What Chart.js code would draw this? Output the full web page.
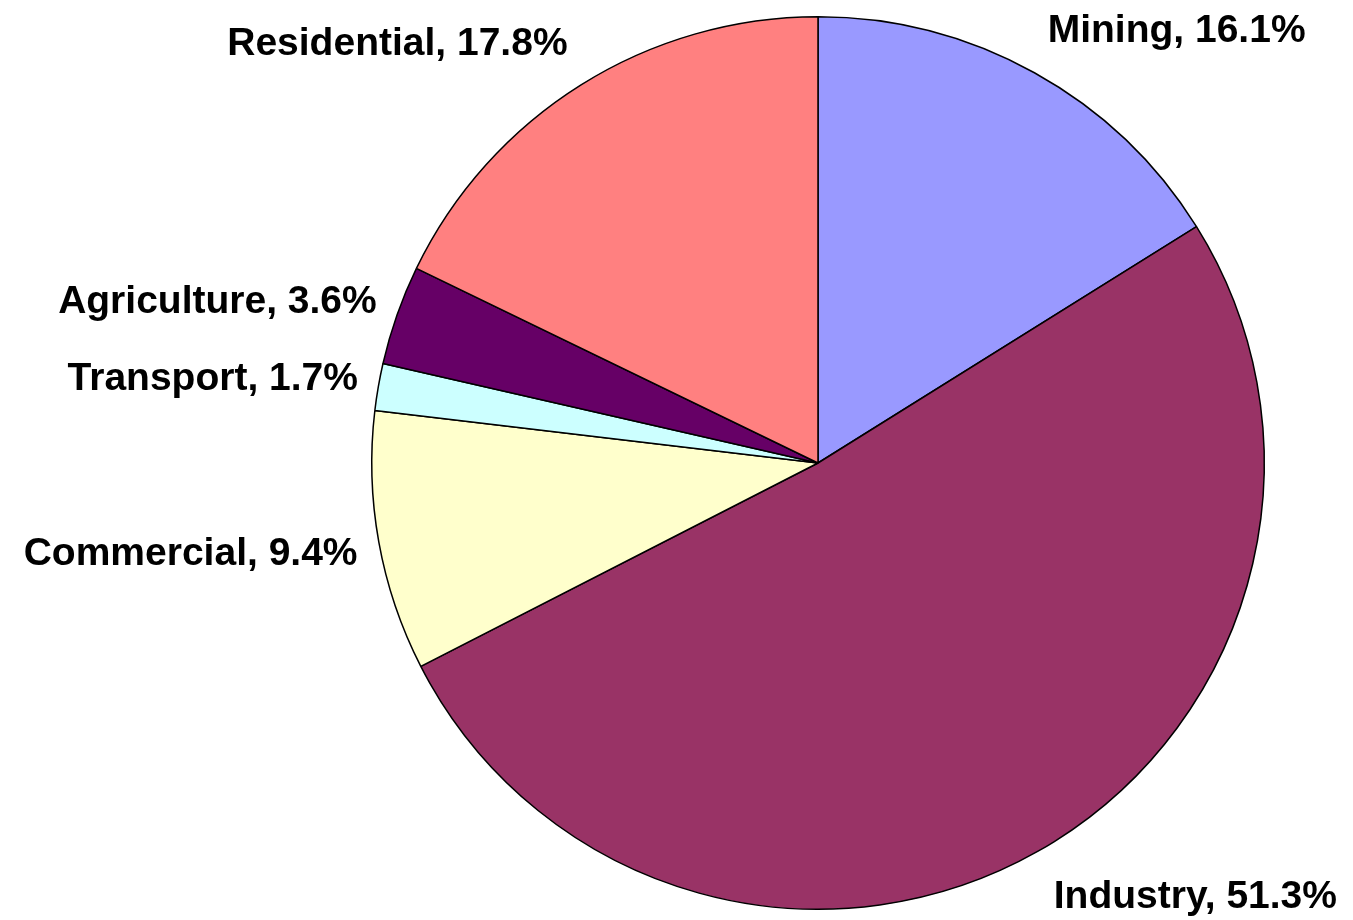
<!DOCTYPE html>
<html>
<head>
<meta charset="utf-8">
<script src="https://cdn.jsdelivr.net/npm/chart.js@4.4.0/dist/chart.umd.min.js"></script>
<style>
  html, body { margin: 0; padding: 0; background: #fff; }
  #wrap { width: 1353px; height: 920px; }
</style>
</head>
<body>
<div id="wrap"><canvas id="pie"></canvas></div>
<script>
// Sector shares (%), clockwise from 12 o'clock
const sectors = ['Mining', 'Industry', 'Commercial', 'Transport', 'Agriculture', 'Residential'];
const shares = [16.1, 51.3, 9.4, 1.7, 3.6, 17.8];
const sliceColors = ['#9999FF', '#993366', '#FFFFCC', '#CCFFFF', '#660066', '#FF8080'];

// label placement tweaks (px), same order as sectors
const labelDx = [-10, -8, 26, 27, 25, 12];
const labelDy = [0, 4, 4, 1, 3, 0];

// draws "Name, 12.3%" outside each slice, like the old Excel labels
const outsideLabels = {
    id: 'outsideLabels',
    afterDatasetsDraw(chart) {
        const ctx = chart.ctx;
        const arcs = chart.getDatasetMeta(0).data;
        ctx.save();
        ctx.font = 'bold 39px "Liberation Sans", Arial, sans-serif';
        ctx.fillStyle = '#000';
        ctx.textBaseline = 'middle';
        arcs.forEach((arc, i) => {
            const p = arc.getProps(['x', 'y', 'startAngle', 'endAngle', 'outerRadius'], true);
            const mid = (p.startAngle + p.endAngle) / 2;
            const r = p.outerRadius + 48;
            const x = p.x + Math.cos(mid) * r + labelDx[i];
            const y = p.y + Math.sin(mid) * r + labelDy[i];
            ctx.textAlign = Math.cos(mid) >= 0 ? 'left' : 'right';
            ctx.fillText(sectors[i] + ', ' + shares[i].toFixed(1) + '%', x, y);
        });
        ctx.restore();
    }
};

new Chart(document.getElementById('pie'), {
    type: 'pie',
    data: {
        labels: sectors,
        datasets: [{
            data: shares,
            backgroundColor: sliceColors,
            borderColor: '#000',
            borderWidth: 1.5
        }]
    },
    options: {
        responsive: true,
        maintainAspectRatio: false,
        animation: false,
        layout: { padding: { left: 371, right: 88, top: 16, bottom: 10 } },
        plugins: {
            legend: { display: false },
            tooltip: { enabled: false }
        }
    },
    plugins: [outsideLabels]
});
</script>
</body>
</html>
